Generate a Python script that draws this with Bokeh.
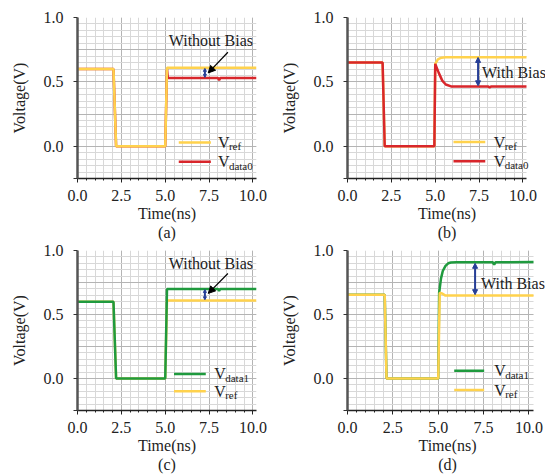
from bokeh.plotting import figure
from bokeh.layouts import column, row
from bokeh.models import (FixedTicker, PrintfTickFormatter, CustomJSTickFormatter,
                          Label, Arrow, NormalHead, Range1d, LinearAxis, BoxAnnotation)
from bokeh.embed import file_html
from bokeh.resources import INLINE

FONT = "Liberation Serif"
YELLOW = "#FFD24D"
RED = "#D8262B"
GREEN = "#1F9A3E"
BLUE = "#263E96"
TXT = "#222222"

# ---- ticks ----
x_major_ticks = [0.0, 2.5, 5.0, 7.5, 10.0]
x_minor_ticks = [0.0, 0.5, 1.0, 1.5, 2.0, 2.5, 3.0, 3.5, 4.0, 4.5, 5.0, 5.5, 6.0, 6.5,
                 7.0, 7.5, 8.0, 8.5, 9.0, 9.5, 10.0]
y_axis_ticks = [-0.25, 0.0, 0.5, 1.0]
y_grid_major = [-0.25, 0.0, 0.25, 0.5, 0.75, 1.0]
y_grid_minor = [-0.25, -0.2, -0.15, -0.1, -0.05, 0.0, 0.05, 0.1, 0.15, 0.2, 0.25, 0.3, 0.35,
                0.4, 0.45, 0.5, 0.55, 0.6, 0.65, 0.7, 0.75, 0.8, 0.85, 0.9, 0.95, 1.0]

# ---- panel (a) ----
t_a_ref = [0.0, 2.05, 2.2, 5.0, 5.1, 10.2]
v_a_ref = [0.60, 0.60, 0.0, 0.0, 0.61, 0.61]
t_a_d0 = [0.0, 2.05, 2.2, 5.0, 5.1, 5.15, 8.0, 8.07, 8.14, 10.2]
v_a_d0 = [0.60, 0.60, 0.0, 0.0, 0.60, 0.53, 0.53, 0.515, 0.53, 0.53]

# ---- panel (b) ----
t_b_ref = [0.0, 2.0, 2.12, 4.95, 5.0, 5.15, 5.35, 5.6, 10.2]
v_b_ref = [0.65, 0.65, 0.0, 0.0, 0.64, 0.675, 0.688, 0.692, 0.692]
t_b_d0 = [0.0, 2.0, 2.12, 4.95, 5.0, 5.2, 5.4, 5.6, 5.9, 8.0, 8.1, 8.2, 10.2]
v_b_d0 = [0.65, 0.65, 0.0, 0.0, 0.64, 0.57, 0.51, 0.48, 0.465, 0.465, 0.458, 0.465, 0.465]

# ---- panel (c) ----
t_c_ref = [0.0, 2.05, 2.2, 5.0, 5.1, 10.2]
v_c_ref = [0.60, 0.60, 0.0, 0.0, 0.61, 0.61]
t_c_d1 = [0.0, 2.05, 2.2, 5.0, 5.1, 8.0, 8.07, 8.14, 10.2]
v_c_d1 = [0.60, 0.60, 0.0, 0.0, 0.70, 0.70, 0.685, 0.70, 0.70]

# ---- panel (d) ----
t_d_ref = [0.0, 2.05, 2.15, 5.0, 5.08, 5.2, 5.4, 10.25]
v_d_ref = [0.655, 0.655, 0.0, 0.0, 0.67, 0.665, 0.648, 0.648]
t_d_d1 = [0.0, 2.05, 2.15, 5.0, 5.05, 5.15, 5.25, 5.4, 5.55, 5.7, 6.0, 8.0, 8.08, 8.16, 10.25]
v_d_d1 = [0.655, 0.655, 0.0, 0.0, 0.67, 0.78, 0.84, 0.88, 0.90, 0.906, 0.908, 0.908, 0.89,
          0.908, 0.91]


def make_fig(fw, fh, x_data_end, x_view_end, bleft, btop, bright, letter):
    p = figure(frame_width=fw, frame_height=fh, x_range=Range1d(0, x_view_end),
               y_range=Range1d(-0.25, 1.0), output_backend="svg", toolbar_location=None,
               title=None, min_border_left=bleft, min_border_right=bright,
               min_border_top=btop, min_border_bottom=10)
    p.outline_line_color = None
    p.background_fill_color = "white"
    p.border_fill_color = "white"
    # x axis
    p.xaxis.ticker = FixedTicker(ticks=x_major_ticks, minor_ticks=x_minor_ticks)
    p.xaxis.formatter = PrintfTickFormatter(format="%.1f")
    p.xaxis.bounds = (0, x_data_end)
    p.xaxis.axis_line_color = "#222222"
    p.xaxis.axis_line_width = 1.5
    p.xaxis.major_tick_out = 4
    p.xaxis.major_tick_in = 0
    p.xaxis.minor_tick_out = 2
    p.xaxis.minor_tick_in = 0
    p.xaxis.major_tick_line_color = "#222222"
    p.xaxis.minor_tick_line_color = "#222222"
    p.xaxis.major_label_standoff = 7
    p.xaxis.axis_label = "Time(ns)"
    p.xaxis.axis_label_standoff = 1
    # y axis
    p.yaxis.ticker = FixedTicker(ticks=y_axis_ticks, minor_ticks=[])
    p.yaxis.formatter = CustomJSTickFormatter(code="return tick < -0.1 ? '' : tick.toFixed(1);")
    p.yaxis.axis_line_color = "#555555"
    p.yaxis.axis_line_width = 2.5
    p.yaxis.major_tick_out = 4
    p.yaxis.major_tick_in = 0
    p.yaxis.minor_tick_line_color = None
    p.yaxis.major_tick_line_color = "#333333"
    p.yaxis.major_label_standoff = 10
    p.yaxis.axis_label = "Voltage(V)"
    p.yaxis.axis_label_standoff = 13
    # panel letter as an extra, bare axis below
    lx = LinearAxis(ticker=FixedTicker(ticks=[]), bounds=(0, x_data_end),
                    axis_line_color=None, major_tick_line_color=None,
                    minor_tick_line_color=None, axis_label=letter, axis_label_standoff=-1)
    p.add_layout(lx, "below")
    for ax in (p.xaxis[0], p.yaxis[0], lx):
        ax.major_label_text_font = FONT
        ax.major_label_text_font_size = "16px"
        ax.major_label_text_color = TXT
        ax.axis_label_text_font = FONT
        ax.axis_label_text_font_size = "16px"
        ax.axis_label_text_font_style = "normal"
        ax.axis_label_text_color = TXT
    # grids
    p.xgrid.ticker = FixedTicker(ticks=x_major_ticks, minor_ticks=x_minor_ticks)
    p.ygrid.ticker = FixedTicker(ticks=y_grid_major, minor_ticks=y_grid_minor)
    for g in (p.xgrid, p.ygrid):
        g.grid_line_color = "#b4b4b4"
        g.grid_line_width = 1
        g.minor_grid_line_color = "#d8d8d8"
        g.minor_grid_line_width = 1
    if x_view_end > x_data_end:
        # blank area right of the data window, so that text can run past it
        p.add_layout(BoxAnnotation(left=x_data_end, fill_color="white", fill_alpha=1.0,
                                   line_color=None, level="underlay"))
    return p


def txt(p, x, y, text, size="16px", align="left", baseline="middle", xo=0, yo=0):
    p.add_layout(Label(x=x, y=y, x_offset=xo, y_offset=yo, text=text, text_font=FONT,
                       text_font_size=size, text_align=align, text_baseline=baseline,
                       text_color=TXT))


def legend_entry(p, x0, x1, xt, y, color, sub):
    p.line([x0, x1], [y, y], line_color=color, line_width=2.5)
    txt(p, xt, y, "V")
    txt(p, xt, y, sub, size="11px", xo=11, yo=-4)


def blue_arrow(p, x, y0, y1, size):
    p.add_layout(Arrow(start=NormalHead(size=size, fill_color=BLUE, line_color=BLUE),
                       end=NormalHead(size=size, fill_color=BLUE, line_color=BLUE),
                       x_start=x, y_start=y0, x_end=x, y_end=y1,
                       line_color=BLUE, line_width=2))


def black_arrow(p, x0, y0, x1, y1):
    p.add_layout(Arrow(end=NormalHead(size=7, fill_color="black", line_color="black"),
                       x_start=x0, y_start=y0, x_end=x1, y_end=y1,
                       line_color="black", line_width=1.2))


# (a)
pa = make_fig(179, 161, 10.2, 10.2, 77, 17, 21, "(a)")
pa.line(t_a_d0, v_a_d0, line_color=RED, line_width=2.5)
pa.line(t_a_ref, v_a_ref, line_color=YELLOW, line_width=2.5)
blue_arrow(pa, 7.26, 0.535, 0.605, 3)
black_arrow(pa, 8.57, 0.73, 7.45, 0.57)
txt(pa, 7.6, 0.82, "Without Bias", align="center")
legend_entry(pa, 5.77, 7.6, 8.0, 0.03, YELLOW, "ref")
legend_entry(pa, 5.77, 7.6, 8.0, -0.12, RED, "data0")

# (b)
pb = make_fig(199, 161, 10.2, 11.34, 69, 17, 0, "(b)")
pb.line(t_b_ref, v_b_ref, line_color=YELLOW, line_width=2.5)
pb.line(t_b_d0, v_b_d0, line_color=RED, line_width=2.5)
blue_arrow(pb, 7.44, 0.47, 0.69, 5)
txt(pb, 7.67, 0.575, "With Bias")
legend_entry(pb, 6.04, 7.85, 8.33, 0.033, YELLOW, "ref")
legend_entry(pb, 6.04, 7.85, 8.33, -0.116, RED, "data0")

# (c)
pc = make_fig(179, 160, 10.2, 10.2, 77, 7, 21, "(c)")
pc.line(t_c_ref, v_c_ref, line_color=YELLOW, line_width=2.5)
pc.line(t_c_d1, v_c_d1, line_color=GREEN, line_width=2.5)
blue_arrow(pc, 7.26, 0.615, 0.695, 3)
black_arrow(pc, 8.57, 0.82, 7.45, 0.665)
txt(pc, 7.6, 0.9, "Without Bias", align="center")
legend_entry(pc, 5.5, 7.31, 7.79, 0.036, GREEN, "data1")
legend_entry(pc, 5.5, 7.31, 7.79, -0.10, YELLOW, "ref")

# (d)
pd = make_fig(200, 160, 10.25, 11.02, 68, 7, 0, "(d)")
pd.line(t_d_d1, v_d_d1, line_color=GREEN, line_width=2.5)
pd.line(t_d_ref, v_d_ref, line_color=YELLOW, line_width=2.5)
blue_arrow(pd, 7.03, 0.655, 0.9, 5)
txt(pd, 7.36, 0.74, "With Bias")
legend_entry(pd, 5.88, 7.53, 8.08, 0.06, GREEN, "data1")
legend_entry(pd, 5.88, 7.53, 8.08, -0.09, YELLOW, "ref")

layout = column(row(pa, pb), row(pc, pd))
open("out.html", "w").write(file_html(layout, INLINE))
